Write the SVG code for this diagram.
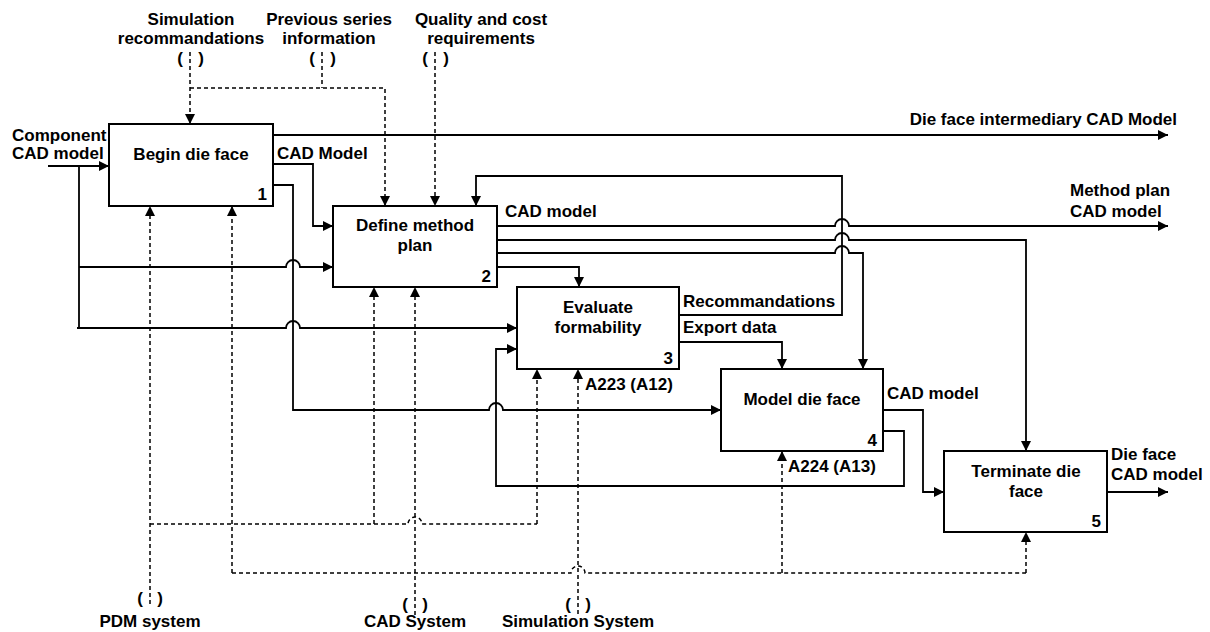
<svg xmlns="http://www.w3.org/2000/svg" width="1210" height="632" viewBox="0 0 1210 632">
  <style>
    text { font-family: "Liberation Sans", Arial, sans-serif; font-weight: bold; font-size: 17px; fill: #000; }
    .c { text-anchor: middle; }
    .r { text-anchor: end; }
    .box { fill: #fff; stroke: #000; stroke-width: 2; }
    .flow { fill: none; stroke: #000; stroke-width: 1.8; }
    .ctl { fill: none; stroke: #000; stroke-width: 1.5; stroke-dasharray: 4 3; }
    .arr { marker-end: url(#head); }
  </style>
  <defs>
    <marker id="head" markerUnits="userSpaceOnUse" markerWidth="11" markerHeight="11" refX="10" refY="5" orient="auto">
      <path d="M0,0 L10,5 L0,10 Z" fill="#000"/>
    </marker>
  </defs>

  <!-- connectors -->
  <g id="connectors">
    <!-- inputs (solid) -->
    <path class="flow arr" d="M48,166 H109"/>
    <path class="flow" d="M79,166 V328"/>
    <path class="flow arr" d="M79,267 H286 A7,7 0 0 1 300,267 H333"/>
    <path class="flow arr" d="M77,328 H286 A7,7 0 0 1 300,328 H517"/>

    <!-- box 1 outputs -->
    <path class="flow arr" d="M273,135 H1168"/>
    <path class="flow arr" d="M273,164 H313 V226 H333"/>
    <path class="flow arr" d="M273,185 H293 V410 H489 A7,7 0 0 1 503,410 H721"/>

    <!-- box 2 outputs -->
    <path class="flow arr" d="M497,226 H835 A7,7 0 0 1 849,226 H1168"/>
    <path class="flow arr" d="M497,240 H835 A7,7 0 0 1 849,240 H1026 V451"/>
    <path class="flow arr" d="M497,253 H835 A7,7 0 0 1 849,253 H863 V369"/>
    <path class="flow arr" d="M497,267 H579 V287"/>

    <!-- box 3 outputs -->
    <path class="flow arr" d="M679,315 H842 V176 H476 V206"/>
    <path class="flow arr" d="M679,342 H782 V369"/>

    <!-- box 4 outputs -->
    <path class="flow arr" d="M883,410 H923 V492 H944"/>
    <path class="flow arr" d="M883,431 H904 V486 H496 V349 H517"/>

    <!-- box 5 output -->
    <path class="flow arr" d="M1107,492 H1168"/>

    <!-- controls from above (dashed) -->
    <path class="ctl arr" d="M190,52 V124"/>
    <path class="ctl" d="M322,52 V88"/>
    <path class="ctl arr" d="M190,88 H385 V206"/>
    <path class="ctl arr" d="M435,52 V206"/>

    <!-- mechanisms from below (dashed) -->
    <path class="ctl arr" d="M150,604 V206"/>
    <path class="ctl" d="M150,524 H408 A7,7 0 0 1 422,524 H537"/>
    <path class="ctl arr" d="M374,524 V287"/>
    <path class="ctl arr" d="M537,524 V369"/>

    <path class="ctl arr" d="M415,615 V287"/>
    <path class="ctl arr" d="M232,573 V206"/>
    <path class="ctl" d="M232,573 H571 A7,7 0 0 1 585,573 H1026"/>
    <path class="ctl arr" d="M782,573 V451"/>
    <path class="ctl arr" d="M1026,573 V532"/>

    <path class="ctl arr" d="M578,614 V369"/>

    <!-- tunnel brackets -->
    <text class="c" x="180" y="64">(</text><text class="c" x="201" y="64">)</text>
    <text class="c" x="312" y="64">(</text><text class="c" x="333" y="64">)</text>
    <text class="c" x="425" y="64">(</text><text class="c" x="446" y="64">)</text>
    <text class="c" x="140" y="604">(</text><text class="c" x="160" y="604">)</text>
    <text class="c" x="405" y="610">(</text><text class="c" x="425" y="610">)</text>
    <text class="c" x="568" y="610">(</text><text class="c" x="588" y="610">)</text>

    <!-- arrow labels -->
    <text class="c" x="191" y="25">Simulation</text>
    <text class="c" x="191" y="44">recommandations</text>
    <text class="c" x="329" y="25">Previous series</text>
    <text class="c" x="329" y="44">information</text>
    <text class="c" x="481" y="25">Quality and cost</text>
    <text class="c" x="481" y="44">requirements</text>

    <text x="12" y="141">Component</text>
    <text x="12" y="159">CAD model</text>
    <text x="277" y="159">CAD Model</text>
    <text class="r" x="1177" y="125">Die face intermediary CAD Model</text>
    <text x="505" y="217">CAD model</text>
    <text x="1070" y="196">Method plan</text>
    <text x="1070" y="217">CAD model</text>
    <text x="683" y="307">Recommandations</text>
    <text x="683" y="333">Export data</text>
    <text x="585" y="390">A223 (A12)</text>
    <text x="887" y="399">CAD model</text>
    <text x="788" y="472">A224 (A13)</text>
    <text x="1111" y="460">Die face</text>
    <text x="1111" y="480">CAD model</text>

    <text class="c" x="150" y="627">PDM system</text>
    <text class="c" x="415" y="627">CAD System</text>
    <text class="c" x="578" y="627">Simulation System</text>
  </g>

  <!-- activity boxes -->
  <g id="node-1">
    <rect class="box" x="109" y="124" width="164" height="82"/>
    <text class="c" x="191" y="160">Begin die face</text>
    <text class="r" x="267" y="200">1</text>
  </g>
  <g id="node-2">
    <rect class="box" x="333" y="206" width="164" height="81"/>
    <text class="c" x="415" y="231">Define method</text>
    <text class="c" x="415" y="251">plan</text>
    <text class="r" x="491" y="282">2</text>
  </g>
  <g id="node-3">
    <rect class="box" x="517" y="287" width="162" height="82"/>
    <text class="c" x="598" y="313">Evaluate</text>
    <text class="c" x="598" y="333">formability</text>
    <text class="r" x="673" y="364">3</text>
  </g>
  <g id="node-4">
    <rect class="box" x="721" y="369" width="162" height="82"/>
    <text class="c" x="802" y="405">Model die face</text>
    <text class="r" x="877" y="446">4</text>
  </g>
  <g id="node-5">
    <rect class="box" x="944" y="451" width="163" height="81"/>
    <text class="c" x="1026" y="477">Terminate die</text>
    <text class="c" x="1026" y="497">face</text>
    <text class="r" x="1101" y="527">5</text>
  </g>
</svg>
